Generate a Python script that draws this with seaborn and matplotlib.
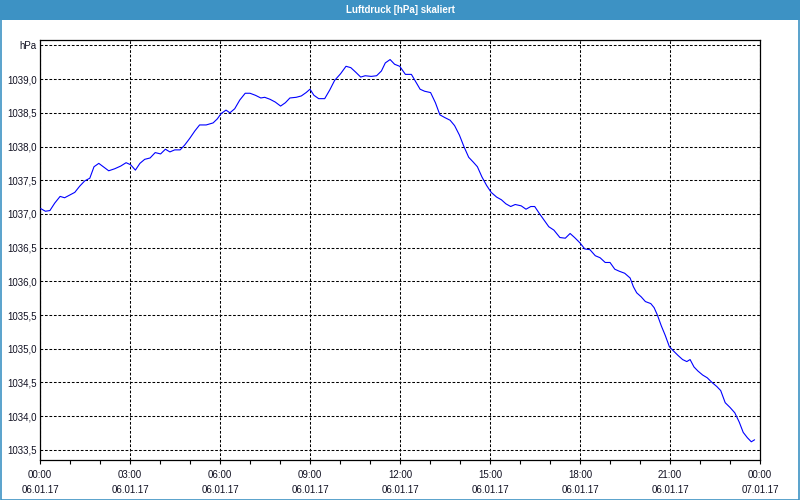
import matplotlib
matplotlib.use("Agg")
import matplotlib.pyplot as plt
from matplotlib.patches import Rectangle
import seaborn as sns
import pandas as pd

# --- data (hours since 06.01.17 00:00, pressure in hPa) ---
hours = [0.02, 0.18, 0.33, 0.49, 0.67, 0.82, 0.99, 1.16, 1.32, 1.49, 1.66, 1.80, 1.96,
         2.11, 2.29, 2.49, 2.69, 2.87, 3.02, 3.18, 3.33, 3.49, 3.67, 3.84, 4.02, 4.18,
         4.33, 4.49, 4.67, 4.82, 4.99, 5.16, 5.32, 5.54, 5.77, 5.91, 6.04, 6.20, 6.33,
         6.49, 6.66, 6.84, 7.00, 7.18, 7.36, 7.49, 7.67, 7.84, 8.02, 8.18, 8.33, 8.54,
         8.71, 8.87, 9.00, 9.13, 9.29, 9.49, 9.66, 9.82, 10.02, 10.20, 10.36, 10.53,
         10.69, 10.84, 11.04, 11.22, 11.38, 11.51, 11.67, 11.82, 11.99, 12.07, 12.18,
         12.38, 12.51, 12.67, 12.82, 13.02, 13.18, 13.33, 13.49, 13.67, 13.82, 13.98,
         14.13, 14.29, 14.44, 14.58, 14.73, 14.89, 15.04, 15.22, 15.38, 15.53, 15.69,
         15.84, 16.04, 16.20, 16.36, 16.49, 16.64, 16.80, 16.96, 17.13, 17.33, 17.51,
         17.67, 17.82, 18.00, 18.16, 18.33, 18.51, 18.67, 18.84, 19.00, 19.16, 19.31,
         19.49, 19.67, 19.78, 19.89, 20.04, 20.18, 20.36, 20.47, 20.58, 20.71, 20.84,
         20.98, 21.11, 21.27, 21.42, 21.56, 21.67, 21.80, 21.93, 22.09, 22.24, 22.40,
         22.56, 22.69, 22.84, 23.00, 23.16, 23.31, 23.44, 23.58, 23.71, 23.82]
pressure = [1037.08, 1037.04, 1037.05, 1037.16, 1037.26, 1037.24, 1037.28, 1037.32, 1037.41,
            1037.49, 1037.53, 1037.70, 1037.75, 1037.70, 1037.64, 1037.67, 1037.71, 1037.76,
            1037.73, 1037.65, 1037.75, 1037.81, 1037.83, 1037.91, 1037.89, 1037.96, 1037.92,
            1037.95, 1037.95, 1038.02, 1038.12, 1038.23, 1038.32, 1038.32, 1038.35, 1038.41,
            1038.49, 1038.54, 1038.50, 1038.56, 1038.69, 1038.79, 1038.79, 1038.76, 1038.72,
            1038.73, 1038.70, 1038.66, 1038.60, 1038.65, 1038.72, 1038.73, 1038.75, 1038.80,
            1038.85, 1038.76, 1038.71, 1038.71, 1038.84, 1038.98, 1039.08, 1039.19, 1039.17,
            1039.10, 1039.03, 1039.05, 1039.04, 1039.05, 1039.12, 1039.24, 1039.29, 1039.22,
            1039.19, 1039.14, 1039.07, 1039.07, 1038.97, 1038.85, 1038.82, 1038.80, 1038.65,
            1038.47, 1038.43, 1038.39, 1038.31, 1038.17, 1038.00, 1037.84, 1037.77, 1037.70,
            1037.55, 1037.42, 1037.32, 1037.25, 1037.21, 1037.15, 1037.11, 1037.14, 1037.12,
            1037.07, 1037.11, 1037.11, 1037.01, 1036.91, 1036.81, 1036.76, 1036.65, 1036.64,
            1036.71, 1036.65, 1036.57, 1036.48, 1036.47, 1036.38, 1036.35, 1036.28, 1036.28,
            1036.18, 1036.15, 1036.12, 1036.05, 1035.92, 1035.83, 1035.77, 1035.70, 1035.67,
            1035.61, 1035.50, 1035.34, 1035.20, 1035.03, 1034.97, 1034.90, 1034.84, 1034.81,
            1034.84, 1034.73, 1034.67, 1034.61, 1034.57, 1034.50, 1034.44, 1034.38, 1034.20,
            1034.13, 1034.05, 1033.91, 1033.76, 1033.68, 1033.62, 1033.65]

x_tick_hours = [0, 3, 6, 9, 12, 15, 18, 21, 24]
x_tick_labels = ["00:00\n06.01.17", "03:00\n06.01.17", "06:00\n06.01.17",
                 "09:00\n06.01.17", "12:00\n06.01.17", "15:00\n06.01.17",
                 "18:00\n06.01.17", "21:00\n06.01.17", "00:00\n07.01.17"]
y_tick_values = [1033.5, 1034.0, 1034.5, 1035.0, 1035.5, 1036.0, 1036.5,
                 1037.0, 1037.5, 1038.0, 1038.5, 1039.0, 1039.5]
y_tick_labels = ["1033,5", "1034,0", "1034,5", "1035,0", "1035,5", "1036,0", "1036,5",
                 "1037,0", "1037,5", "1038,0", "1038,5", "1039,0", "hPa"]
title = "Luftdruck [hPa] skaliert"

sns.set_style("white")
plt.rcParams["font.family"] = ["Liberation Sans", "DejaVu Sans"]

df = pd.DataFrame({"h": hours, "p": pressure})

W, H = 800, 500
fig = plt.figure(figsize=(8, 5), dpi=100, facecolor="white")
ax = fig.add_axes([40 / W, 1 - 460 / H, 720 / W, 420 / H])

sns.lineplot(data=df, x="h", y="p", ax=ax, color="#0000ff", linewidth=0.8,
             zorder=3, estimator=None)

ax.set_xlim(0, 24)
ax.set_ylim(1033.35, 1039.58)
ax.set_xlabel("")
ax.set_ylabel("")

ax.set_xticks(x_tick_hours)
ax.set_xticklabels(x_tick_labels, fontsize=7, linespacing=1.6, color="#111122")
ax.set_xticks(range(0, 25), minor=True)
ax.set_yticks(y_tick_values)
ax.set_yticklabels(y_tick_labels, fontsize=7, color="#111122")

ax.tick_params(axis="x", which="major", direction="out", length=3, width=0.8,
               color="black", pad=4, bottom=True)
ax.tick_params(axis="x", which="minor", direction="out", length=3, width=0.8,
               color="black", bottom=True)
ax.tick_params(axis="y", which="major", length=0, pad=2.5)

ax.grid(True, which="major", color="black", linestyle=(0, (2.6, 1.7)), linewidth=0.75)
ax.set_axisbelow(True)

for side in ["left", "top", "bottom", "right"]:
    ax.spines[side].set_visible(True)
    ax.spines[side].set_color("black")
    ax.spines[side].set_linewidth(0.9)

# title bar
fig.patches.append(Rectangle((0, 1 - 20 / H), 1, 20 / H, transform=fig.transFigure,
                             facecolor="#3d92c4", edgecolor="none", zorder=0))
fig.text(0.5, 1 - 10 / H, title, ha="center", va="center", color="white",
         fontsize=7, fontweight="bold")
# outer border
fig.patches.append(Rectangle((0.5 / W, 0.5 / H), 1 - 1.5 / W, 1 - 1.5 / H,
                             transform=fig.transFigure, facecolor="none",
                             edgecolor="#3d92c4", linewidth=1.2, zorder=5))

fig.savefig("out.png", dpi=100)
